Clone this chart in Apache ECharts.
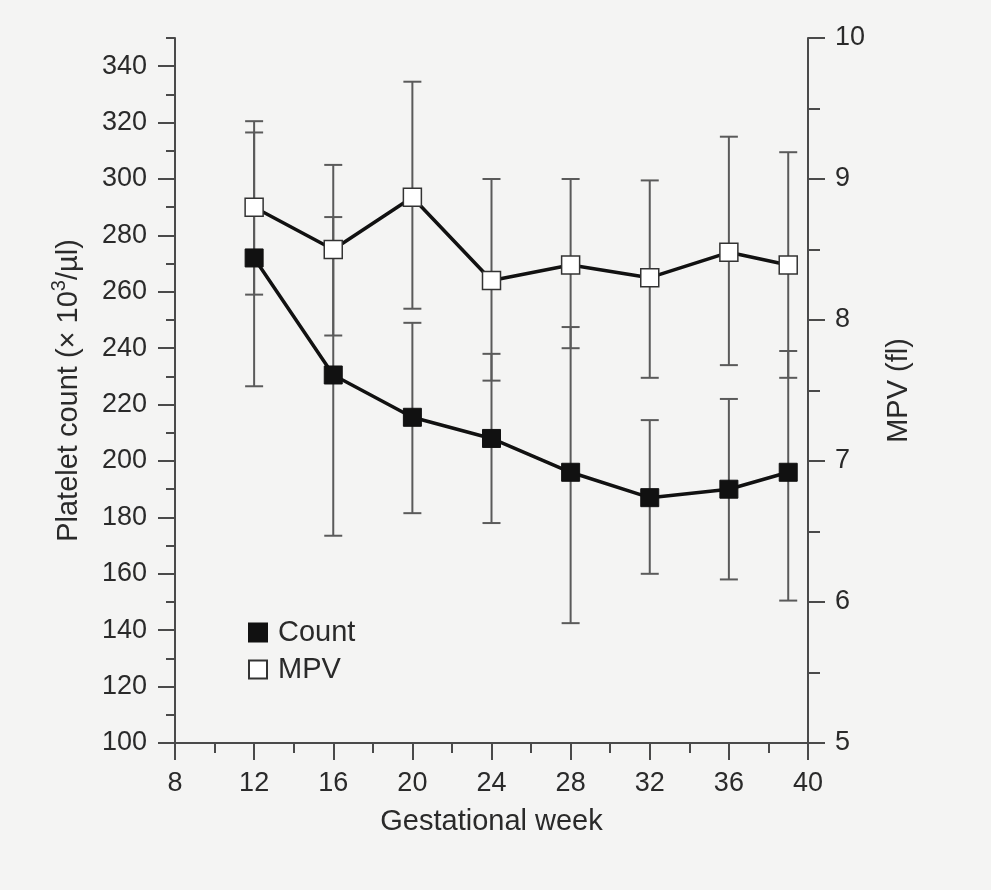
<!DOCTYPE html>
<html>
<head>
<meta charset="utf-8">
<script src="https://cdn.jsdelivr.net/npm/echarts@6/dist/echarts.min.js"></script>
<style>
  html, body { margin: 0; padding: 0; background: #f4f4f3; }
  #chart { width: 991px; height: 890px; }
</style>
</head>
<body>
<div id="chart"></div>
<script>
// ---- data ----
var weeks      = [12, 16, 20, 24, 28, 32, 36, 39];
var countMean  = [272, 230.5, 215.5, 208, 196, 187, 190, 196];
var countLow   = [226.5, 173.5, 181.5, 178, 142.5, 160, 158, 150.5];
var countHigh  = [316.5, 286.5, 249, 238, 247.5, 214.5, 222, 239];
var mpvMean    = [8.80, 8.50, 8.87, 8.28, 8.39, 8.30, 8.48, 8.39];
var mpvLow     = [8.18, 7.89, 8.08, 7.57, 7.80, 7.59, 7.68, 7.59];
var mpvHigh    = [9.41, 9.10, 9.69, 9.00, 9.00, 8.99, 9.30, 9.19];

var weekTicks  = [8, 12, 16, 20, 24, 28, 32, 36, 40];
var countTicks = [100, 120, 140, 160, 180, 200, 220, 240, 260, 280, 300, 320, 340];
var countMinor = [110, 130, 150, 170, 190, 210, 230, 250, 270, 290, 310, 330, 350];
var mpvTicks   = [5, 6, 7, 8, 9, 10];

var xTitle = 'Gestational week';
var leftTitleParts = ['Platelet count (\u00d7 10', '3', '/\u00b5l)'];
var rightTitle = 'MPV (fl)';
var seriesNames = ['Count', 'MPV'];

// ---- build ----
var FONT = 'Liberation Sans';
var axisColor = '#4a4a4a';
var textColor = '#2a2a2a';

function pairs(xs, ys) { return xs.map(function (x, i) { return [x, ys[i]]; }); }
function triples(xs, lo, hi) { return xs.map(function (x, i) { return [x, lo[i], hi[i]]; }); }

function errRender(params, api) {
  var x = api.value(0), lo = api.value(1), hi = api.value(2);
  var a = api.coord([x, hi]);
  var b = api.coord([x, lo]);
  var w = 9;
  var st = { stroke: '#5a5a5a', lineWidth: 2 };
  return {
    type: 'group',
    children: [
      { type: 'line', shape: { x1: a[0], y1: a[1], x2: b[0], y2: b[1] }, style: st },
      { type: 'line', shape: { x1: a[0] - w, y1: a[1], x2: a[0] + w, y2: a[1] }, style: st },
      { type: 'line', shape: { x1: b[0] - w, y1: b[1], x2: b[0] + w, y2: b[1] }, style: st }
    ]
  };
}

var chart = echarts.init(document.getElementById('chart'), null, { renderer: 'canvas' });
var labelStyle = { fontFamily: FONT, fontSize: 27, color: textColor };
var nameStyle = { fontFamily: FONT, fontSize: 29, color: textColor };

chart.setOption({
  animation: false,
  backgroundColor: '#f4f4f3',
  textStyle: { fontFamily: FONT },
  grid: { left: 175, right: 183, top: 38, bottom: 147, containLabel: false },
  legend: {
    orient: 'vertical',
    left: 243,
    top: 613,
    itemWidth: 18,
    itemHeight: 18,
    itemGap: 8,
    icon: 'rect',
    textStyle: { fontFamily: FONT, fontSize: 29, color: textColor, padding: [0, 0, 0, 6] },
    data: seriesNames
  },
  xAxis: {
    type: 'value',
    min: weekTicks[0],
    max: weekTicks[weekTicks.length - 1],
    interval: weekTicks[1] - weekTicks[0],
    name: xTitle,
    nameLocation: 'middle',
    nameGap: 64,
    nameTextStyle: nameStyle,
    axisLine: { show: true, lineStyle: { color: axisColor, width: 2 } },
    axisTick: { show: true, length: 17, lineStyle: { color: axisColor, width: 2 } },
    minorTick: { show: true, splitNumber: 2, length: 10, lineStyle: { color: axisColor, width: 2 } },
    axisLabel: Object.assign({ margin: 27 }, labelStyle),
    splitLine: { show: false }
  },
  yAxis: [
    {
      type: 'value',
      position: 'left',
      min: countTicks[0],
      max: countMinor[countMinor.length - 1],
      name: '{a|' + leftTitleParts[0] + '}{sup|' + leftTitleParts[1] + '}{a|' + leftTitleParts[2] + '}',
      nameLocation: 'middle',
      nameRotate: 90,
      nameGap: 92,
      nameTextStyle: {
        fontFamily: FONT, fontSize: 29, color: textColor,
        rich: {
          a: { fontFamily: FONT, fontSize: 29, color: textColor, lineHeight: 34, verticalAlign: 'bottom' },
          sup: { fontFamily: FONT, fontSize: 20, color: textColor, lineHeight: 34, verticalAlign: 'top' }
        }
      },
      axisLine: { show: true, lineStyle: { color: axisColor, width: 2 } },
      axisTick: { show: true, length: 17, customValues: countTicks, lineStyle: { color: axisColor, width: 2 } },
      axisLabel: Object.assign({ margin: 28, customValues: countTicks }, labelStyle),
      splitLine: { show: false }
    },
    {
      type: 'value',
      position: 'left',
      min: countTicks[0],
      max: countMinor[countMinor.length - 1],
      axisLine: { show: false },
      axisTick: { show: true, length: 9, customValues: countMinor, lineStyle: { color: axisColor, width: 2 } },
      axisLabel: { show: false },
      splitLine: { show: false }
    },
    {
      type: 'value',
      position: 'right',
      min: mpvTicks[0],
      max: mpvTicks[mpvTicks.length - 1],
      interval: mpvTicks[1] - mpvTicks[0],
      name: rightTitle,
      nameLocation: 'middle',
      nameRotate: 90,
      nameGap: 76,
      nameTextStyle: Object.assign({ padding: [0, 0, 0, 0] }, nameStyle),
      axisLine: { show: true, lineStyle: { color: axisColor, width: 2 } },
      axisTick: { show: true, length: 17, lineStyle: { color: axisColor, width: 2 } },
      minorTick: { show: true, splitNumber: 2, length: 12, lineStyle: { color: axisColor, width: 2 } },
      axisLabel: Object.assign({ margin: 27 }, labelStyle),
      splitLine: { show: false }
    }
  ],
  series: [
    {
      type: 'custom',
      name: 'countErr',
      xAxisIndex: 0,
      yAxisIndex: 0,
      z: 1,
      renderItem: errRender,
      encode: { x: 0, y: [1, 2] },
      data: triples(weeks, countLow, countHigh)
    },
    {
      type: 'custom',
      name: 'mpvErr',
      xAxisIndex: 0,
      yAxisIndex: 2,
      z: 1,
      renderItem: errRender,
      encode: { x: 0, y: [1, 2] },
      data: triples(weeks, mpvLow, mpvHigh)
    },
    {
      type: 'line',
      name: seriesNames[0],
      yAxisIndex: 0,
      z: 3,
      symbol: 'rect',
      symbolSize: 18,
      showAllSymbol: true,
      lineStyle: { color: '#111', width: 3.5 },
      itemStyle: { color: '#111', borderColor: '#111', borderWidth: 1 },
      data: pairs(weeks, countMean)
    },
    {
      type: 'line',
      name: seriesNames[1],
      yAxisIndex: 2,
      z: 3,
      symbol: 'rect',
      symbolSize: 18,
      showAllSymbol: true,
      lineStyle: { color: '#111', width: 3.5 },
      itemStyle: { color: '#ffffff', borderColor: '#333', borderWidth: 1.5 },
      data: pairs(weeks, mpvMean)
    }
  ]
});
</script>
</body>
</html>
